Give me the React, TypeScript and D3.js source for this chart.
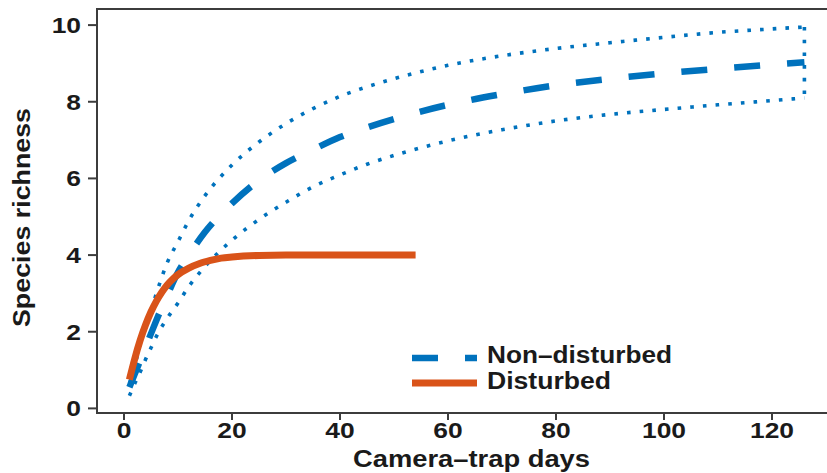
import * as React from "react";
import * as d3 from "d3";

// camera-trap days / species richness
const ndDays = [1, 2, 3, 4, 5, 6, 8, 10, 12, 15, 20, 25, 30, 35, 40, 45, 50, 60, 70, 80, 90, 100, 110, 120, 126];
const ndMean = [0.55, 0.9, 1.25, 1.6, 1.95, 2.3, 2.95, 3.55, 4.0, 4.6, 5.35, 5.95, 6.4, 6.75, 7.08, 7.33, 7.55, 7.92, 8.2, 8.43, 8.6, 8.74, 8.86, 8.97, 9.03];
const ndUpper = [0.65, 1.1, 1.7, 2.1, 2.55, 3.0, 3.8, 4.35, 4.9, 5.55, 6.35, 6.95, 7.43, 7.82, 8.14, 8.39, 8.6, 8.95, 9.2, 9.39, 9.54, 9.68, 9.81, 9.9, 9.95];
const ndLower = [0.33, 0.65, 0.95, 1.28, 1.58, 1.88, 2.35, 2.75, 3.18, 3.7, 4.39, 4.93, 5.38, 5.78, 6.09, 6.37, 6.6, 6.98, 7.27, 7.5, 7.67, 7.8, 7.92, 8.03, 8.1];

const dDays = [1, 2, 3, 4, 5, 6, 7, 8, 9, 10, 12, 14, 16, 18, 20, 25, 30, 40, 54];
const dRich = [0.75, 1.3, 1.78, 2.18, 2.52, 2.8, 3.03, 3.22, 3.37, 3.49, 3.66, 3.78, 3.86, 3.92, 3.95, 3.99, 4.0, 4.0, 4.0];

const xTicks = [0, 20, 40, 60, 80, 100, 120];
const yTicks = [0, 2, 4, 6, 8, 10];

const BLUE = "#0072BD";
const ORANGE = "#D95319";
const AXIS = "#3c3c3c";
const FONT = "'Liberation Sans', Arial, Helvetica, sans-serif";

export default function App() {
  const W = 827, H = 473;
  const x = d3.scaleLinear().domain([-5, 131]).range([97, 831.4]);
  const y = d3.scaleLinear().domain([-0.12, 10.42]).range([413, 9]);

  const line = d3.line<[number, number]>()
    .x(d => x(d[0]))
    .y(d => y(d[1]))
    .curve(d3.curveMonotoneX);

  const pts = (xs: number[], ys: number[]) => xs.map((v, i) => [v, ys[i]] as [number, number]);
  const last = ndDays.length - 1;
  const dotted = { stroke: BLUE, strokeWidth: 3.6, fill: "none", strokeDasharray: "3.6 9.1" };

  return (
    <svg width={W} height={H} style={{ position: "fixed", left: 0, top: 0, background: "#fff" }}>
      <defs>
        <clipPath id="plot">
          <rect x={97} y={9} width={740} height={404} />
        </clipPath>
      </defs>

      <g clipPath="url(#plot)">
        <path d={line(pts(ndDays, ndUpper)) || ""} {...dotted} />
        <path d={line(pts(ndDays, ndLower)) || ""} {...dotted} />
        <path
          d={d3.line()([[x(ndDays[last]), y(ndUpper[last])], [x(ndDays[last]), y(ndLower[last])]]) || ""}
          {...dotted}
        />
        <path d={line(pts(ndDays, ndMean)) || ""} stroke={BLUE} strokeWidth={6.5} fill="none" strokeDasharray="26 27" />
        <path d={line(pts(dDays, dRich)) || ""} stroke={ORANGE} strokeWidth={7} fill="none" />
      </g>

      {/* frame */}
      <line x1={97} x2={W} y1={9} y2={9} stroke={AXIS} strokeWidth={2} />
      <line x1={97} x2={W} y1={413} y2={413} stroke={AXIS} strokeWidth={2} />
      <line x1={97} x2={97} y1={8} y2={414} stroke={AXIS} strokeWidth={2} />

      {/* y axis */}
      {yTicks.map(t => (
        <g key={"y" + t}>
          <line x1={88} x2={97} y1={y(t)} y2={y(t)} stroke={AXIS} strokeWidth={2} />
          <text
            transform={`translate(81,${y(t) + 8}) scale(1.2,1)`}
            textAnchor="end"
            fontFamily={FONT}
            fontWeight="bold"
            fontSize={22}
            fill="#1a1a1a"
          >
            {t}
          </text>
        </g>
      ))}

      {/* x axis */}
      {xTicks.map(t => (
        <g key={"x" + t}>
          <line x1={x(t)} x2={x(t)} y1={413} y2={420} stroke={AXIS} strokeWidth={2} />
          <text
            transform={`translate(${x(t)},438) scale(1.2,1)`}
            textAnchor="middle"
            fontFamily={FONT}
            fontWeight="bold"
            fontSize={22}
            fill="#1a1a1a"
          >
            {t}
          </text>
        </g>
      ))}

      <text
        x={471.5}
        y={467}
        textAnchor="middle"
        fontFamily={FONT}
        fontWeight="bold"
        fontSize={23}
        fill="#1a1a1a"
        textLength={237}
        lengthAdjust="spacingAndGlyphs"
      >
        Camera–trap days
      </text>
      <text
        transform="translate(30,217.5) rotate(-90)"
        textAnchor="middle"
        fontFamily={FONT}
        fontWeight="bold"
        fontSize={23}
        fill="#1a1a1a"
        textLength={219}
        lengthAdjust="spacingAndGlyphs"
      >
        Species richness
      </text>

      {/* legend */}
      <line x1={412} x2={477} y1={358} y2={358} stroke={BLUE} strokeWidth={6.5} strokeDasharray="26 27" />
      <line x1={412} x2={477} y1={383} y2={383} stroke={ORANGE} strokeWidth={7} />
      <text x={487} y={363} fontFamily={FONT} fontWeight="bold" fontSize={23.5} fill="#1a1a1a" textLength={185} lengthAdjust="spacingAndGlyphs">
        Non–disturbed
      </text>
      <text x={487} y={389} fontFamily={FONT} fontWeight="bold" fontSize={23.5} fill="#1a1a1a" textLength={124} lengthAdjust="spacingAndGlyphs">
        Disturbed
      </text>
    </svg>
  );
}
